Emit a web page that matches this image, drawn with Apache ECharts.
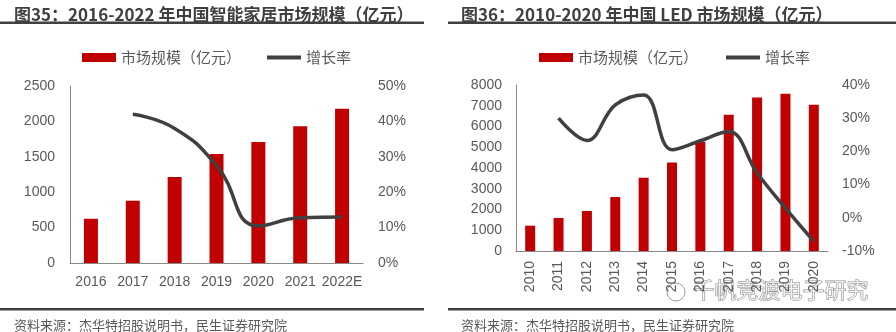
<!DOCTYPE html>
<html>
<head>
<meta charset="utf-8">
<script src="https://cdn.jsdelivr.net/npm/echarts@6/dist/echarts.min.js"></script>
<style>
html,body{margin:0;padding:0;background:#fff;}
#c{width:896px;height:332px;}
</style>
</head>
<body>
<div id="c"></div>
<script>
// Chart 35: smart home market
const yearsA = ['2016', '2017', '2018', '2019', '2020', '2021', '2022E'];
const sizeA = [625, 880, 1215, 1540, 1710, 1930, 2180];
const growthA = [null, 42, 38, 27.5, 10.5, 12.8, 13];

// Chart 36: LED market
const yearsB = ['2010', '2011', '2012', '2013', '2014', '2015', '2016', '2017', '2018', '2019', '2020'];
const sizeB = [1220, 1590, 1930, 2600, 3530, 4270, 5270, 6570, 7400, 7580, 7050];
const growthB = [null, 30, 23.3, 34, 37, 20.5, 23.2, 26, 13.5, 2.9, -7.1];

const titleA = '图35：2016-2022 年中国智能家居市场规模（亿元）';
const titleB = '图36：2010-2020 年中国 LED 市场规模（亿元）';
const sourceText = '资料来源：杰华特招股说明书，民生证券研究院';
const barName = '市场规模（亿元）';
const lineName = '增长率';

const RED = '#C00000';
const DARK = '#404040';
const TXT = '#595959';
const FONT = '"Liberation Sans", "Noto Sans CJK SC", sans-serif';
const CJK = '"Noto Sans CJK SC", sans-serif';

const chart = echarts.init(document.getElementById('c'), null, {renderer: 'canvas'});

const axisLabel = {color: TXT, fontSize: 14, fontFamily: FONT};
const axisLine = {show: true, lineStyle: {color: '#898989', width: 1}};
const plain = function (v) { return String(v); };
const pct = function (v) { return v + '%'; };
const lineIcon = 'path://M0,0 L34,0 L34,4 L0,4 Z';

chart.setOption({
  animation: false,
  textStyle: {fontFamily: CJK},
  title: [
    {text: titleA, left: 9, top: 1, textStyle: {fontSize: 17, fontWeight: 'bold', color: DARK, fontFamily: CJK}},
    {text: titleB, left: 456, top: 1, textStyle: {fontSize: 17, fontWeight: 'bold', color: DARK, fontFamily: CJK}},
    {text: sourceText, left: 9, top: 314, textStyle: {fontSize: 13, fontWeight: 'normal', color: TXT, fontFamily: CJK}},
    {text: sourceText, left: 456, top: 314, textStyle: {fontSize: 13, fontWeight: 'normal', color: TXT, fontFamily: CJK}}
  ],
  graphic: [
    {type: 'rect', shape: {x: 0, y: 21.5, width: 424, height: 2.5}, style: {fill: DARK}},
    {type: 'rect', shape: {x: 448, y: 21.5, width: 448, height: 2.5}, style: {fill: DARK}},
    {type: 'rect', shape: {x: 0, y: 308, width: 424, height: 2.5}, style: {fill: DARK}},
    {type: 'rect', shape: {x: 448, y: 308, width: 448, height: 2.5}, style: {fill: DARK}},
    {type: 'circle', shape: {cx: 676, cy: 292, r: 9}, style: {fill: 'rgba(255,255,255,0.6)', stroke: '#9a9a9a', lineWidth: 1}},
    {type: 'text', left: 692, top: 278, style: {text: '千帆竞渡电子研究', fontSize: 22, fill: 'rgba(255,255,255,0.75)', stroke: '#8a8a8a', lineWidth: 1, fontFamily: CJK}}
  ],
  legend: [
    {left: 77, top: 45, itemWidth: 34, itemHeight: 9, itemGap: 26,
     data: [{name: barName, icon: 'rect'}, {name: lineName, icon: lineIcon}],
     textStyle: {fontSize: 15, color: TXT, fontFamily: CJK}},
    {left: 534, top: 45, itemWidth: 34, itemHeight: 9, itemGap: 28,
     data: [{name: barName, icon: 'rect'}, {name: lineName, icon: lineIcon}],
     textStyle: {fontSize: 15, color: TXT, fontFamily: CJK}}
  ],
  grid: [
    {left: 70, right: 533, top: 86, bottom: 69},
    {left: 516, right: 68, top: 85, bottom: 81}
  ],
  xAxis: [
    {type: 'category', gridIndex: 0, data: yearsA, axisLine: axisLine, axisTick: {show: false},
     axisLabel: Object.assign({}, axisLabel, {margin: 12, interval: 0})},
    {type: 'category', gridIndex: 1, data: yearsB, axisLine: axisLine, axisTick: {show: false},
     axisLabel: Object.assign({}, axisLabel, {margin: 10, interval: 0, rotate: 90})}
  ],
  yAxis: [
    {type: 'value', gridIndex: 0, min: 0, max: 2500, interval: 500, axisLine: axisLine, axisTick: {show: false},
     splitLine: {show: false}, axisLabel: Object.assign({}, axisLabel, {margin: 15, formatter: plain})},
    {type: 'value', gridIndex: 0, min: 0, max: 50, interval: 10, position: 'right', axisLine: {show: false}, axisTick: {show: false},
     splitLine: {show: false}, axisLabel: Object.assign({}, axisLabel, {margin: 15, formatter: pct})},
    {type: 'value', gridIndex: 1, min: 0, max: 8000, interval: 1000, axisLine: axisLine, axisTick: {show: false},
     splitLine: {show: false}, axisLabel: Object.assign({}, axisLabel, {margin: 14, formatter: plain})},
    {type: 'value', gridIndex: 1, min: -10, max: 40, interval: 10, position: 'right', axisLine: {show: false}, axisTick: {show: false},
     splitLine: {show: false}, axisLabel: Object.assign({}, axisLabel, {margin: 14, formatter: pct})}
  ],
  series: [
    {name: barName, type: 'bar', xAxisIndex: 0, yAxisIndex: 0, data: sizeA, barWidth: 14, itemStyle: {color: RED}},
    {name: lineName, type: 'line', xAxisIndex: 0, yAxisIndex: 1, data: growthA, smooth: 0.5, symbol: 'none',
     lineStyle: {color: DARK, width: 3.5}, itemStyle: {color: DARK}},
    {name: barName, type: 'bar', xAxisIndex: 1, yAxisIndex: 2, data: sizeB, barWidth: 10, itemStyle: {color: RED}},
    {name: lineName, type: 'line', xAxisIndex: 1, yAxisIndex: 3, data: growthB, smooth: 0.4, symbol: 'none',
     lineStyle: {color: DARK, width: 3.5}, itemStyle: {color: DARK}}
  ]
});
</script>
</body>
</html>
